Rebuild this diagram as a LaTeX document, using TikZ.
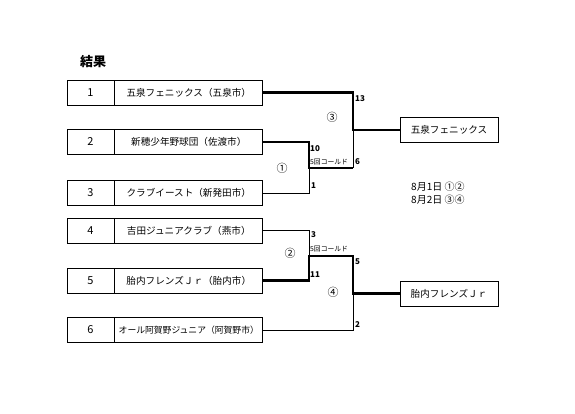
\documentclass[tikz,border=0pt]{standalone}
\usepackage{fontspec}
\setmainfont{Noto Sans CJK JP}
\newfontfamily\cjk{Noto Sans CJK JP}
\usetikzlibrary{positioning}
\begin{document}
\begin{tikzpicture}[x=1pt, y=-1pt,
    cell/.style={draw, line width=0.8pt, minimum height=25pt, inner sep=0pt},
    numcell/.style={cell, minimum width=47pt, font=\fontsize{11}{13}\selectfont},
    namecell/.style={cell, minimum width=148pt, font=\fontsize{9.6}{11}\selectfont},
    winbox/.style={cell, minimum width=98pt, font=\fontsize{9.6}{11}\selectfont},
    lose/.style={line width=0.8pt},
    win/.style={line width=2.4pt},
    score/.style={anchor=west, inner sep=0pt, font=\fontsize{8}{9}\selectfont\bfseries},
    cold/.style={anchor=west, inner sep=0pt, font=\fontsize{6.8}{8}\selectfont},
    game/.style={inner sep=0pt, font=\fontsize{11}{13}\selectfont}]
        \useasboundingbox (0,0) rectangle (575,414);
        \node[font=\fontsize{13}{15}\selectfont\bfseries] (title) at (93,62) {結果};
        \foreach \i/\y/\name in {1/92.5/五泉フェニックス（五泉市）,2/142/新穂少年野球団（佐渡市）,3/193/クラブイースト（新発田市）,4/230.5/吉田ジュニアクラブ（燕市）,5/280.5/胎内フレンズＪｒ（胎内市）,6/330/{\fontsize{8.8}{10}\selectfont オール阿賀野ジュニア（阿賀野市）}} {
            \node[numcell] (n\i) at (90.5,\y) {\i};
            \node[namecell, right=0pt of n\i] (t\i) {\name};
        }
        \node[winbox] (w1) at (449,130) {五泉フェニックス};
        \node[winbox] (w2) at (449,293.5) {胎内フレンズＪｒ};
        % joints
        \coordinate (j1) at (309,168);
        \coordinate (k1) at (353,168);
        \coordinate (f1) at (353,130);
        \coordinate (j2) at (309,256);
        \coordinate (k2) at (353,256);
        \coordinate (f2) at (353,293.5);
        \draw[lose] (t3.east) -| (j1);
        \draw[lose] (k1) -- (f1);
        \draw[win] (t2.east) -| (j1) -- (k1);
        \draw[win] (t1.east) -| (f1) -- (w1.west);
        \draw[lose] (t4.east) -| (j2);
        \draw[lose] (t6.east) -| (f2);
        \draw[win] (t5.east) -| (j2) -- (k2) -- (f2) -- (w2.west);
        % scores
        \node[score] (s13) at (355,99) {13};
        \node[score] (s10) at (310,149) {10};
        \node[cold] (c1) at (310,162) {5回コールド};
        \node[score] (s6) at (355,162) {6};
        \node[score] (s1) at (311,186) {1};
        \node[score] (s3) at (311,235) {3};
        \node[cold] (c2) at (310,249) {5回コールド};
        \node[score] (s5) at (355,262) {5};
        \node[score] (s11) at (310,275) {11};
        \node[score] (s2) at (355,325) {2};
        \node[game] (g3) at (332,117) {③};
        \node[game] (g1) at (282,168) {①};
        \node[game] (g2) at (290,253) {②};
        \node[game] (g4) at (333,292) {④};
        \node[anchor=west, inner sep=0pt, font=\fontsize{10}{12}\selectfont] (d1) at (411,187) {8月1日 ①②};
        \node[anchor=west, inner sep=0pt, font=\fontsize{10}{12}\selectfont] (d2) at (411,200) {8月2日 ③④};
    \end{tikzpicture}
\end{document}
